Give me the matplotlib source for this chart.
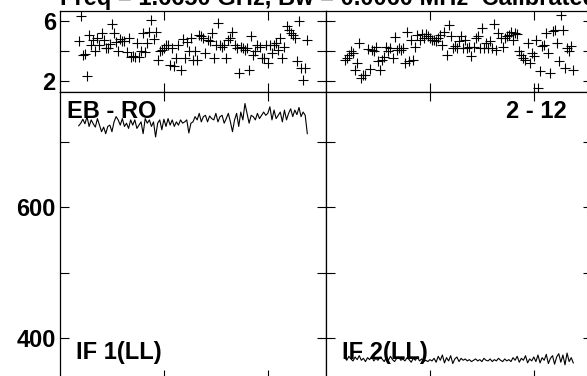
import matplotlib
matplotlib.use("Agg")
import matplotlib.pyplot as plt
import numpy as np

plt.rcParams["font.family"] = ["Liberation Sans", "DejaVu Sans"]
plt.rcParams["font.weight"] = "bold"

TITLE = "Freq = 1.6650 GHz, Bw = 0.0060 MHz  Calibrated"
CHAN = np.arange(9, 120)

# top row: scatter of per-channel values
top_left = [
    4.65, 6.31, 3.76, 3.80, 2.31, 5.04, 4.40, 4.76, 4.02, 4.87,
    4.40, 5.20, 4.76, 4.20, 4.20, 4.45, 5.82, 5.20, 4.60, 4.02,
    4.82, 4.64, 4.70, 3.93, 4.90, 3.58, 3.65, 3.58, 4.53, 3.60,
    4.02, 5.20, 3.93, 4.53, 5.30, 6.09, 4.82, 5.27, 3.42, 3.98,
    4.10, 4.20, 4.42, 4.42, 3.05, 4.20, 2.98, 3.53, 4.42, 2.76,
    4.82, 3.53, 4.60, 3.98, 4.87, 3.42, 4.02, 3.42, 5.09, 4.98,
    4.87, 3.87, 4.76, 4.64, 5.20, 3.53, 4.38, 5.87, 4.42, 4.30,
    4.40, 3.53, 4.76, 4.87, 5.27, 4.42, 4.20, 2.53, 4.25, 4.20,
    4.10, 4.20, 2.76, 4.98, 3.76, 3.98, 4.42, 4.25, 3.53, 3.53,
    4.42, 3.20, 4.38, 3.87, 4.42, 4.53, 4.10, 4.87, 3.53, 4.30,
    5.64, 5.42, 5.20, 5.09, 4.87, 3.31, 6.02, 2.87, 2.09, 2.87,
    4.76,
]
top_right = [
    3.42, 3.53, 3.76, 4.02, 3.87, 2.76, 3.20, 4.53, 2.20, 2.42,
    2.42, 4.16, 2.82, 4.10, 3.98, 4.25, 3.36, 2.76, 3.42, 3.58,
    4.25, 3.98, 4.20, 3.53, 4.91, 4.10, 4.20, 4.10, 4.20, 3.20,
    5.27, 3.31, 4.76, 3.42, 4.30, 5.09, 4.76, 5.13, 4.87, 5.13,
    4.98, 4.87, 4.76, 4.76, 4.64, 4.87, 5.09, 4.42, 5.30, 3.76,
    5.76, 4.98, 4.20, 4.31, 4.20, 4.64, 4.98, 4.20, 4.76, 4.20,
    4.25, 3.64, 4.30, 4.87, 4.98, 4.20, 5.53, 4.20, 4.53, 4.20,
    4.64, 4.20, 5.82, 4.10, 5.20, 4.87, 4.25, 4.87, 4.98, 5.09,
    5.30, 4.76, 5.20, 5.13, 3.98, 3.76, 3.53, 3.42, 4.53, 3.20,
    3.87, 3.64, 4.76, 1.53, 2.64, 4.31, 4.42, 5.20, 3.87, 2.53,
    5.36, 5.42, 4.53, 3.31, 6.42, 5.42, 2.87, 4.20, 3.98, 4.31,
    2.76,
]

# bottom row: spectra
spec_left = [
    724, 728, 734, 727, 738, 723, 733, 727, 722, 735,
    725, 715, 722, 712, 723, 725, 715, 730, 738, 733,
    725, 735, 723, 728, 720, 733, 725, 733, 720, 725,
    730, 712, 735, 728, 733, 723, 730, 707, 728, 733,
    718, 734, 723, 735, 725, 733, 723, 730, 725, 733,
    728, 730, 733, 713, 728, 730, 738, 733, 743, 730,
    738, 740, 730, 739, 735, 733, 743, 730, 738, 740,
    728, 735, 743, 730, 715, 733, 743, 723, 745, 733,
    758, 743, 728, 740, 738, 733, 743, 735, 740, 745,
    740, 743, 753, 733, 748, 735, 740, 745, 730, 748,
    733, 743, 750, 738, 748, 741, 752, 738, 745, 740,
    712,
]
spec_right = [
    370, 366, 372, 368, 365, 371, 367, 373, 366, 369,
    364, 370, 367, 372, 365, 369, 366, 371, 368, 364,
    370, 366, 372, 367, 364, 369, 371, 366, 368, 365,
    370, 367, 363, 369, 366, 371, 365, 368, 364, 366,
    364, 367, 365, 369, 363, 372, 366, 374, 362, 370,
    365, 373, 361, 368, 371, 364, 369, 366, 368, 365,
    367, 364, 366, 368, 365, 367, 364, 369, 366, 365,
    368, 364, 367, 365, 369, 366, 364, 368, 365, 367,
    364, 370, 366, 372, 363, 369, 366, 373, 362, 368,
    365, 371, 364, 374, 362, 370, 366, 375, 361, 369,
    373, 360, 371, 376, 363, 374, 359, 377, 364, 370,
    362,
]

FS = 17
W, H = 587, 376


def box(x0, y0, x1, y1):
    # pixel box (top-left origin) -> figure fraction rect
    return [x0 / W, 1 - y1 / H, (x1 - x0) / W, (y1 - y0) / H]


def style(ax):
    ax.set_xlim(0, 128)
    ax.set_xticks([50, 100])
    ax.tick_params(direction="in", length=6.5, width=0.8, top=True, right=True,
                   labelbottom=False, labelsize=FS, pad=3)
    for s in ax.spines.values():
        s.set_linewidth(0.9)


fig = plt.figure(figsize=(5.87, 3.76), dpi=100)

axes_top = []
for x0 in (60, 326):
    ax = fig.add_axes(box(x0, 11, x0 + 266, 92))
    style(ax)
    ax.set_ylim(1.267, 6.667)
    ax.set_yticks([2, 4, 6])
    ax.set_yticklabels(["2", "", "6"])
    axes_top.append(ax)
axes_top[0].plot(CHAN, top_left, "+", color="black", ms=7, mew=0.8)
axes_top[1].plot(CHAN, top_right, "+", color="black", ms=7, mew=0.8)
axes_top[1].tick_params(labelleft=False)

axes_bot = []
for x0 in (60, 326):
    ax = fig.add_axes(box(x0, 92, x0 + 266, 379))
    style(ax)
    ax.set_ylim(337.4, 775.6)
    ax.set_yticks([400, 500, 600, 700])
    ax.set_yticklabels(["400", "", "600", ""])
    axes_bot.append(ax)
axes_bot[0].plot(CHAN, spec_left, color="black", lw=0.8)
axes_bot[1].plot(CHAN, spec_right, color="black", lw=0.8)
axes_bot[1].tick_params(labelleft=False)

fig.text(67 / W, 1 - 112 / H, "EB - RO", fontsize=FS, fontweight="bold", va="center")
fig.text(567 / W, 1 - 111 / H, "2 - 12", fontsize=FS, fontweight="bold",
         va="center", ha="right")
fig.text(76 / W, 1 - 353 / H, "IF 1(LL)", fontsize=FS, fontweight="bold", va="center")
fig.text(342 / W, 1 - 353 / H, "IF 2(LL)", fontsize=FS, fontweight="bold", va="center")
fig.text(60 / W, 1 - 5 / H, TITLE, fontsize=FS, fontweight="bold", va="baseline")

fig.savefig("out.png", dpi=100)
